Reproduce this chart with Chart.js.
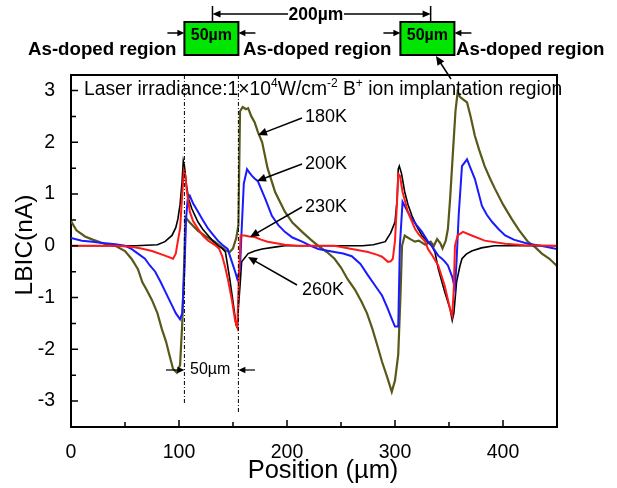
<!DOCTYPE html>
<html>
<head>
<meta charset="utf-8">
<script src="https://cdn.jsdelivr.net/npm/chart.js@4.4.1/dist/chart.umd.min.js"></script>
<style>
  html, body { margin: 0; padding: 0; background: #fff; }
  canvas { display: block; }
</style>
</head>
<body>
<canvas id="chart" width="617" height="488"></canvas>
<script>
// values (position in µm, LBIC in nA)
const xTicks = [0, 100, 200, 300, 400];
const yTicks = [-3, -2, -1, 0, 1, 2, 3];

const pos180 = [0, 5, 13, 20, 31, 41, 50, 56, 62, 66, 70, 75, 80, 84, 88, 91, 94.5, 98, 101, 103, 105, 106, 110, 117.6, 125, 133, 142.6, 147, 150, 153, 155, 156.5, 159, 162, 164, 167, 170, 173, 177, 182, 189, 198, 205, 214, 222, 229, 237, 244, 250, 256, 263, 269, 274, 279, 284, 288, 293, 297, 300, 303, 305, 306.5, 309, 311, 315, 318.5, 322, 328, 333, 336, 339, 342, 344, 347, 349, 351, 354, 356, 358, 360, 363, 366.7, 370, 374, 378, 383, 388, 392.6, 400, 408, 415, 423, 430, 436, 443, 450];
const lbic180 = [0.48, 0.3, 0.18, 0.12, 0.04, 0.0, -0.1, -0.25, -0.45, -0.7, -0.85, -1.05, -1.3, -1.6, -1.85, -2.1, -2.38, -2.45, -2.3, -1.5, -0.2, 0.55, 0.45, 0.29, 0.18, 0.08, -0.08, -0.12, -0.05, 0.15, 0.4, 2.6, 2.68, 2.64, 2.66, 2.5, 2.39, 2.2, 2.0, 1.5, 1.04, 0.66, 0.45, 0.27, 0.12, 0.0, -0.12, -0.25, -0.42, -0.64, -0.85, -1.08, -1.3, -1.6, -1.95, -2.24, -2.55, -2.82, -2.6, -2.1, -1.0, 0.0, 0.2, 0.17, 0.12, 0.08, 0.1, 0.02, 0.08, 0.0, 0.13, 0.05, -0.05, 0.1, 0.33, 0.9, 1.93, 2.6, 2.97, 2.88, 2.83, 2.77, 2.5, 2.12, 1.85, 1.54, 1.3, 1.1, 0.8, 0.52, 0.3, 0.08, -0.03, -0.15, -0.25, -0.39];

const pos200 = [0, 10, 20, 27, 41, 50, 56, 62, 68.5, 73, 78, 83, 87, 90, 93.5, 97, 101, 103, 105, 106.5, 108, 110, 113, 117.6, 122, 127, 132, 136, 140, 145, 149, 152, 154, 156.5, 158, 160, 163, 165, 167.6, 170, 173, 176, 180, 186, 192, 198, 205, 214, 222, 229, 244, 252, 260, 268, 275, 282, 288, 293, 297, 300, 303, 304.5, 307, 309, 312, 315.7, 320, 325, 330, 334, 340, 343.5, 346, 349, 353, 355.5, 357, 359, 362, 366.7, 369, 374, 377, 380.5, 385, 390, 396, 402, 410, 423, 435, 450];
const lbic200 = [0.15, 0.1, 0.08, 0.06, 0.03, 0.0, -0.06, -0.15, -0.25, -0.38, -0.5, -0.7, -0.87, -1.0, -1.15, -1.3, -1.42, -1.3, -0.5, 0.5, 0.9, 0.97, 0.82, 0.66, 0.5, 0.33, 0.2, 0.1, 0.02, -0.06, -0.31, -0.5, -0.64, -0.44, 0.3, 1.2, 1.48, 1.42, 1.35, 1.3, 1.25, 1.1, 0.9, 0.58, 0.4, 0.27, 0.16, 0.08, 0.0, -0.06, -0.12, -0.15, -0.2, -0.35, -0.57, -0.78, -0.96, -1.2, -1.41, -1.56, -1.56, 0.0, 0.85, 0.77, 0.65, 0.52, 0.4, 0.27, 0.1, 0.0, -0.19, -0.25, -0.3, -0.38, -0.6, -0.83, -0.3, 0.6, 1.54, 1.67, 1.55, 1.29, 1.05, 0.77, 0.6, 0.46, 0.32, 0.2, 0.12, 0.04, 0.0, -0.06];

const pos230 = [0, 20, 41, 56, 65, 75, 87, 94.5, 97, 99, 101, 103, 104.5, 106, 107, 110, 113, 117.6, 122, 127, 133, 137, 140, 142.6, 145, 149, 152, 154, 155.5, 157, 161, 165, 170, 176, 182, 190, 198, 210, 244, 260, 275, 283, 288, 293.5, 296, 298, 300, 302, 303, 304.6, 307, 312, 318.5, 322, 328, 330.5, 335, 340, 346, 351, 353, 354.5, 355.5, 358, 363, 371, 383, 402, 420, 450];
const lbic230 = [0.0, 0.0, 0.0, -0.02, -0.05, -0.1, -0.19, -0.25, -0.15, 0.1, 0.33, 1.0, 1.45, 1.35, 1.1, 0.66, 0.48, 0.33, 0.2, 0.1, 0.02, -0.05, -0.2, -0.4, -0.62, -1.05, -1.45, -1.57, -0.6, 0.2, 0.2, 0.18, 0.17, 0.12, 0.08, 0.05, 0.02, 0.0, 0.0, -0.06, -0.12, -0.17, -0.21, -0.31, -0.3, -0.25, 0.1, 0.9, 1.39, 1.35, 1.04, 0.65, 0.33, 0.22, 0.08, -0.06, -0.2, -0.38, -0.77, -1.22, -1.35, -0.8, 0.0, 0.2, 0.27, 0.2, 0.1, 0.04, 0.01, 0.0];

const pos260 = [0, 30, 60, 80, 87, 93.5, 97, 99, 101, 102.8, 104, 105, 107, 109, 112, 117.6, 122, 127, 132, 136, 140, 143, 147, 150, 153, 154, 155, 156.5, 158, 164, 170, 177, 190, 198, 270, 280, 291, 296, 300, 302, 303, 304, 306, 309, 312, 315.7, 320, 325, 330, 334, 337, 340, 346, 351, 353, 354.5, 357, 360, 362, 366, 371, 380, 392, 450];
const lbic260 = [0.0, 0.0, 0.0, 0.02, 0.08, 0.2, 0.35, 0.52, 0.8, 1.23, 1.64, 1.55, 1.16, 0.9, 0.71, 0.46, 0.32, 0.2, 0.08, 0.0, -0.05, -0.12, -0.64, -1.08, -1.54, -1.58, -1.2, -0.77, -0.31, -0.15, -0.1, -0.06, -0.02, 0.0, 0.0, 0.02, 0.08, 0.25, 0.46, 0.9, 1.48, 1.54, 1.4, 1.04, 0.8, 0.58, 0.38, 0.2, 0.08, 0.0, -0.12, -0.44, -0.89, -1.22, -1.44, -1.3, -0.7, -0.4, -0.25, -0.16, -0.1, -0.04, 0.0, 0.0];

const FONT = '"Liberation Sans", Arial, sans-serif';

function toPoints(xs, ys) {
    return xs.map((x, i) => ({ x: x, y: ys[i] }));
}

function arrow(ctx, x1, y1, x2, y2, size) {
    const s = size || 8;
    const a = Math.atan2(y2 - y1, x2 - x1);
    ctx.beginPath();
    ctx.moveTo(x1, y1);
    ctx.lineTo(x2 - Math.cos(a) * s * 0.8, y2 - Math.sin(a) * s * 0.8);
    ctx.stroke();
    ctx.beginPath();
    ctx.moveTo(x2, y2);
    ctx.lineTo(x2 - s * Math.cos(a) + s * 0.45 * Math.sin(a), y2 - s * Math.sin(a) - s * 0.45 * Math.cos(a));
    ctx.lineTo(x2 - s * Math.cos(a) - s * 0.45 * Math.sin(a), y2 - s * Math.sin(a) + s * 0.45 * Math.cos(a));
    ctx.closePath();
    ctx.fill();
}

// text runs with superscripts: [text, isSup]
function drawRuns(ctx, runs, x, y, size) {
    let cx = x;
    runs.forEach(r => {
        if (r[1]) {
            ctx.font = Math.round(size * 0.6) + 'px ' + FONT;
            ctx.fillText(r[0], cx, y - size * 0.42);
        } else {
            ctx.font = size + 'px ' + FONT;
            ctx.fillText(r[0], cx, y);
        }
        cx += ctx.measureText(r[0]).width;
    });
}

const annotations = {
    id: 'annotations',
    afterDraw(chart) {
        const ctx = chart.ctx;
        const xs = chart.scales.x, ys = chart.scales.y;
        const area = chart.chartArea;
        const px = v => xs.getPixelForValue(v);
        const py = v => ys.getPixelForValue(v);
        ctx.save();
        ctx.fillStyle = '#000';
        ctx.strokeStyle = '#000';

        // top and right frame
        ctx.lineWidth = 2;
        ctx.beginPath();
        ctx.moveTo(area.left, area.top);
        ctx.lineTo(area.right, area.top);
        ctx.lineTo(area.right, area.bottom);
        ctx.stroke();

        // inward ticks
        ctx.lineWidth = 1.5;
        ctx.beginPath();
        for (let v = 0; v <= 450; v += 50) {
            const len = v % 100 === 0 ? 7 : 5;
            ctx.moveTo(px(v), area.bottom);
            ctx.lineTo(px(v), area.bottom - len);
        }
        for (let v = -3.5; v <= 3.01; v += 0.5) {
            const len = Math.abs(v % 1) < 0.01 ? 7 : 5;
            ctx.moveTo(area.left, py(v));
            ctx.lineTo(area.left + len, py(v));
        }
        ctx.stroke();

        // dash-dot boundary lines
        ctx.lineWidth = 1;
        ctx.setLineDash([4, 2, 1, 2]);
        ctx.beginPath();
        ctx.moveTo(px(105), area.top);
        ctx.lineTo(px(105), 403);
        ctx.moveTo(px(155), area.top);
        ctx.lineTo(px(155), 412);
        ctx.stroke();
        ctx.setLineDash([]);

        // 50 µm width marker inside the plot
        ctx.lineWidth = 1.2;
        arrow(ctx, 166, 370, px(105), 370, 7);
        arrow(ctx, 255, 370, px(155), 370, 7);
        ctx.font = '16px ' + FONT;
        ctx.textBaseline = 'middle';
        ctx.textAlign = 'left';
        ctx.fillText('50\u00b5m', 190, 370);

        // irradiance text
        ctx.textBaseline = 'alphabetic';
        drawRuns(ctx, [['Laser irradiance:1\u00d710', 0], ['4', 1], ['W/cm', 0], ['-2', 1], [' B', 0], ['+', 1], [' ion implantation region', 0]], 84, 95, 19.3);

        // temperature labels
        ctx.font = '18px ' + FONT;
        ctx.textBaseline = 'middle';
        ctx.fillText('180K', 305, 117);
        ctx.fillText('200K', 305, 164);
        ctx.fillText('230K', 305, 207);
        ctx.fillText('260K', 302, 290);
        ctx.lineWidth = 1.5;
        arrow(ctx, 302, 118, 258, 135, 9);
        arrow(ctx, 302, 164, 257, 181, 9);
        arrow(ctx, 302, 207, 250, 237, 9);
        arrow(ctx, 297, 285, 248, 257, 9);

        // green implantation windows above the plot
        [[105, 155], [305, 355]].forEach(b => {
            const l = px(b[0]), r = px(b[1]);
            ctx.fillStyle = '#00e600';
            ctx.fillRect(l, 22, r - l, 33);
            ctx.lineWidth = 2;
            ctx.strokeRect(l, 22, r - l, 33);
            ctx.fillStyle = '#000';
            ctx.font = 'bold 16px ' + FONT;
            ctx.textAlign = 'center';
            ctx.textBaseline = 'alphabetic';
            ctx.fillText('50\u00b5m', (l + r) / 2, 40);
            ctx.lineWidth = 1.5;
            arrow(ctx, l - 17, 33, l, 33, 7);
            arrow(ctx, r + 17, 33, r, 33, 7);
        });

        // 200 µm pitch marker
        const a1 = px(131), a2 = px(333);
        ctx.lineWidth = 1.5;
        ctx.beginPath();
        ctx.moveTo(a1, 6); ctx.lineTo(a1, 22);
        ctx.moveTo(a2, 6); ctx.lineTo(a2, 22);
        ctx.stroke();
        arrow(ctx, 288, 14, a1, 14, 8);
        arrow(ctx, 344, 14, a2, 14, 8);
        ctx.font = 'bold 17.5px ' + FONT;
        ctx.textAlign = 'center';
        ctx.fillText('200\u00b5m', 316, 20);

        // region labels
        ctx.font = 'bold 18.7px ' + FONT;
        ctx.textAlign = 'left';
        ctx.fillText('As-doped region', 28, 55);
        ctx.fillText('As-doped region', 243, 55);
        ctx.fillText('As-doped region', 456, 55);

        // arrow to the implantation window
        ctx.lineWidth = 1.5;
        arrow(ctx, 451, 79, 436, 56, 9);

        // axis titles
        ctx.font = '25.5px ' + FONT;
        ctx.textAlign = 'center';
        ctx.textBaseline = 'middle';
        ctx.fillText('Position (\u00b5m)', 323, 471);
        ctx.font = '24.5px ' + FONT;
        ctx.translate(25, 245);
        ctx.rotate(-Math.PI / 2);
        ctx.fillText('LBIC(nA)', 0, 0);
        ctx.restore();
    }
};

const tickFont = { family: FONT, size: 19.5 };

new Chart(document.getElementById('chart'), {
    type: 'line',
    data: {
        datasets: [
            { label: '230K', data: toPoints(pos230, lbic230), borderColor: '#ff1a1a', borderWidth: 2 },
            { label: '200K', data: toPoints(pos200, lbic200), borderColor: '#1a1aff', borderWidth: 2 },
            { label: '260K', data: toPoints(pos260, lbic260), borderColor: '#000000', borderWidth: 1.6 },
            { label: '180K', data: toPoints(pos180, lbic180), borderColor: '#58581a', borderWidth: 2.2 }
        ]
    },
    options: {
        responsive: false,
        animation: false,
        devicePixelRatio: 1,
        elements: { point: { radius: 0 }, line: { tension: 0, fill: false } },
        layout: { padding: { top: 75, right: 60, left: 0, bottom: 0 } },
        plugins: { legend: { display: false }, tooltip: { enabled: false } },
        scales: {
            x: {
                type: 'linear',
                min: 0,
                max: 450,
                grid: { display: false },
                border: { display: true, color: '#000', width: 2 },
                ticks: { font: tickFont, color: '#000', padding: 6, maxRotation: 0 },
                afterBuildTicks: axis => { axis.ticks = xTicks.map(v => ({ value: v })); },
                afterFit: axis => { axis.height = 61; }
            },
            y: {
                type: 'linear',
                min: -3.5,
                max: 3.3,
                grid: { display: false },
                border: { display: true, color: '#000', width: 2 },
                ticks: { font: tickFont, color: '#000', padding: 8 },
                afterBuildTicks: axis => { axis.ticks = yTicks.map(v => ({ value: v })); },
                afterFit: axis => { axis.width = 71; }
            }
        }
    },
    plugins: [annotations]
});
</script>
</body>
</html>
